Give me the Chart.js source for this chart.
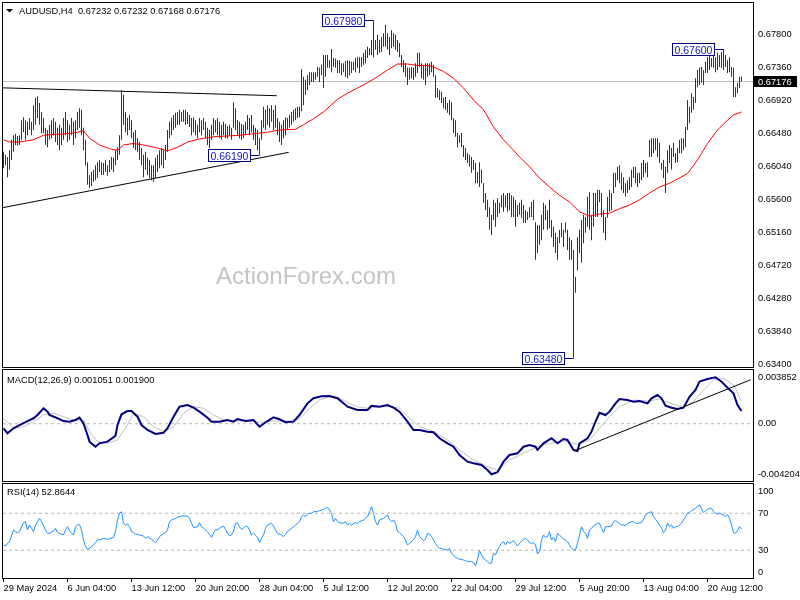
<!DOCTYPE html>
<html><head><meta charset="utf-8">
<script src="https://cdn.jsdelivr.net/npm/chart.js@4.4.1/dist/chart.umd.min.js"></script>
<style>
html,body{margin:0;padding:0;background:#fff;width:800px;height:600px;overflow:hidden;}
canvas{position:absolute;left:0;}
</style></head><body>
<canvas id="cMain" width="800" height="368" style="top:0px"></canvas>
<canvas id="cMacd" width="800" height="115" style="top:368px"></canvas>
<canvas id="cRsi" width="800" height="117" style="top:483px"></canvas>
<script>
// ---------------- DATA ----------------
const symbolTitle = 'AUDUSD,H4';
const lastBarOHLC = ['0.67232','0.67232','0.67168','0.67176'];
const currentPrice = 0.67176;

// x axis: bar index -> time labels
const tickBars = [0,32,64,96,128,160,192,224,256,288,320,352];
const tickLabels = ['29 May 2024','6 Jun 04:00','13 Jun 12:00','20 Jun 20:00','28 Jun 04:00','5 Jul 12:00','12 Jul 20:00','22 Jul 04:00','29 Jul 12:00','5 Aug 20:00','13 Aug 04:00','20 Aug 12:00'];

const priceTicks = [0.634,0.6384,0.6428,0.6472,0.6516,0.656,0.6604,0.6648,0.6692,0.6736,0.678];
const macdTicks = [-0.004204, 0, 0.003852];
const macdTickLabels = ['-0.004204','0.00','0.003852'];
const rsiTicks = [0, 30, 70, 100];
const rsiLevels = [30, 70];
const macdLevels = [0];

// H4 bars: highs / lows
const highs = [
0.6623,0.6619,0.6616,0.6625,0.6639,0.6645,0.6647,0.6644,0.6645,0.6665,
0.6669,0.6665,0.6663,0.6668,0.6663,0.6685,0.6695,0.6697,0.6688,0.6676,
0.6668,0.6655,0.6652,0.6659,0.6665,0.6668,0.6663,0.6655,0.6659,0.6655,
0.6668,0.6676,0.6665,0.6659,0.6668,0.6663,0.6665,0.6676,0.6681,0.6679,
0.6655,0.6639,0.6609,0.6592,0.6596,0.6599,0.6605,0.6609,0.6612,0.6609,
0.6608,0.6612,0.6605,0.6612,0.6616,0.6615,0.6625,0.6629,0.6645,0.6705,
0.6699,0.6676,0.6668,0.6672,0.6665,0.6649,0.6652,0.6641,0.6636,0.6628,
0.6619,0.6623,0.6615,0.6612,0.6605,0.6605,0.6615,0.6619,0.6625,0.6628,
0.6625,0.6632,0.6652,0.6663,0.6668,0.6672,0.6675,0.6676,0.6679,0.6676,
0.6679,0.6679,0.6676,0.6672,0.6668,0.6669,0.6665,0.6659,0.6668,0.6665,
0.6668,0.6663,0.6655,0.6652,0.6659,0.6668,0.6665,0.6668,0.6663,0.6659,
0.6663,0.6660,0.6657,0.6659,0.6655,0.6689,0.6681,0.6665,0.6663,0.6660,
0.6659,0.6663,0.6672,0.6668,0.6672,0.6659,0.6655,0.6652,0.6641,0.6665,
0.6683,0.6679,0.6685,0.6681,0.6685,0.6679,0.6685,0.6668,0.6663,0.6659,
0.6665,0.6669,0.6668,0.6672,0.6676,0.6679,0.6681,0.6683,0.6683,0.6733,
0.6723,0.6719,0.6725,0.6729,0.6729,0.6729,0.6729,0.6736,0.6735,0.6739,
0.6752,0.6752,0.6752,0.6745,0.6760,0.6748,0.6747,0.6745,0.6745,0.6741,
0.6741,0.6744,0.6745,0.6744,0.6743,0.6743,0.6748,0.6749,0.6749,0.6749,
0.6755,0.6759,0.6763,0.6761,0.6772,0.6798,0.6772,0.6779,0.6772,0.6776,
0.6781,0.6792,0.6781,0.6776,0.6785,0.6781,0.6779,0.6772,0.6768,0.6752,
0.6745,0.6741,0.6735,0.6735,0.6736,0.6735,0.6741,0.6755,0.6755,0.6741,
0.6739,0.6741,0.6741,0.6741,0.6743,0.6739,0.6725,0.6708,0.6705,0.6703,
0.6695,0.6696,0.6688,0.6692,0.6689,0.6668,0.6665,0.6648,0.6645,0.6648,
0.6632,0.6628,0.6621,0.6619,0.6616,0.6612,0.6608,0.6596,0.6609,0.6599,
0.6581,0.6568,0.6559,0.6549,0.6539,0.6559,0.6555,0.6561,0.6555,0.6565,
0.6568,0.6565,0.6568,0.6568,0.6565,0.6563,0.6559,0.6552,0.6555,0.6559,
0.6552,0.6545,0.6543,0.6549,0.6556,0.6559,0.6529,0.6525,0.6525,0.6539,
0.6555,0.6552,0.6545,0.6559,0.6532,0.6523,0.6515,0.6509,0.6519,0.6528,
0.6519,0.6529,0.6519,0.6509,0.6505,0.6492,0.6456,0.6509,0.6519,0.6532,
0.6539,0.6536,0.6563,0.6569,0.6539,0.6568,0.6568,0.6572,0.6572,0.6568,
0.6545,0.6536,0.6563,0.6572,0.6568,0.6595,0.6595,0.6603,0.6605,0.6595,
0.6589,0.6581,0.6585,0.6589,0.6599,0.6603,0.6603,0.6595,0.6595,0.6608,
0.6612,0.6608,0.6609,0.6639,0.6641,0.6641,0.6641,0.6641,0.6635,0.6608,
0.6612,0.6603,0.6625,0.6632,0.6628,0.6635,0.6621,0.6628,0.6639,0.6641,
0.6641,0.6656,0.6692,0.6683,0.6701,0.6696,0.6721,0.6732,0.6735,0.6736,
0.6732,0.6743,0.6749,0.6752,0.6748,0.6752,0.6749,0.6755,0.6752,0.6756,
0.6760,0.6752,0.6745,0.6749,0.6736,0.6735,0.6709,0.6715,0.6723,0.67232];
const lows = [
0.6601,0.6605,0.6589,0.6599,0.6612,0.6623,0.6632,0.6631,0.6632,0.6639,
0.6649,0.6639,0.6645,0.6652,0.6645,0.6652,0.6659,0.6668,0.6659,0.6648,
0.6648,0.6632,0.6629,0.6639,0.6641,0.6645,0.6636,0.6632,0.6625,0.6632,
0.6639,0.6645,0.6636,0.6639,0.6645,0.6632,0.6641,0.6652,0.6655,0.6645,
0.6625,0.6605,0.6579,0.6575,0.6577,0.6583,0.6585,0.6588,0.6596,0.6592,
0.6592,0.6596,0.6591,0.6596,0.6599,0.6596,0.6605,0.6612,0.6619,0.6639,
0.6659,0.6649,0.6645,0.6652,0.6641,0.6628,0.6625,0.6623,0.6612,0.6605,
0.6589,0.6599,0.6592,0.6588,0.6585,0.6583,0.6588,0.6596,0.6601,0.6605,
0.6601,0.6612,0.6623,0.6641,0.6645,0.6652,0.6655,0.6659,0.6659,0.6663,
0.6663,0.6659,0.6660,0.6656,0.6645,0.6649,0.6645,0.6641,0.6649,0.6645,
0.6652,0.6641,0.6632,0.6628,0.6639,0.6645,0.6649,0.6645,0.6641,0.6639,
0.6645,0.6641,0.6641,0.6645,0.6639,0.6655,0.6652,0.6645,0.6641,0.6639,
0.6641,0.6645,0.6652,0.6645,0.6649,0.6639,0.6632,0.6625,0.6619,0.6639,
0.6655,0.6652,0.6659,0.6655,0.6663,0.6652,0.6655,0.6645,0.6636,0.6632,
0.6641,0.6645,0.6652,0.6655,0.6659,0.6663,0.6665,0.6668,0.6669,0.6677,
0.6685,0.6699,0.6705,0.6712,0.6716,0.6716,0.6719,0.6723,0.6716,0.6725,
0.6708,0.6723,0.6735,0.6735,0.6729,0.6736,0.6735,0.6728,0.6728,0.6725,
0.6729,0.6723,0.6721,0.6725,0.6728,0.6732,0.6729,0.6735,0.6728,0.6736,
0.6739,0.6741,0.6748,0.6752,0.6752,0.6749,0.6759,0.6752,0.6755,0.6756,
0.6763,0.6763,0.6759,0.6752,0.6761,0.6763,0.6759,0.6756,0.6749,0.6736,
0.6729,0.6723,0.6712,0.6719,0.6721,0.6719,0.6723,0.6728,0.6736,0.6721,
0.6719,0.6712,0.6723,0.6725,0.6729,0.6723,0.6695,0.6695,0.6692,0.6688,
0.6681,0.6679,0.6675,0.6672,0.6665,0.6648,0.6643,0.6629,0.6635,0.6629,
0.6616,0.6612,0.6608,0.6603,0.6595,0.6599,0.6581,0.6581,0.6576,0.6581,
0.6555,0.6545,0.6536,0.6519,0.6512,0.6532,0.6523,0.6536,0.6541,0.6549,
0.6543,0.6549,0.6543,0.6545,0.6536,0.6536,0.6523,0.6536,0.6539,0.6535,
0.6528,0.6528,0.6532,0.6535,0.6536,0.6532,0.6479,0.6488,0.6499,0.6505,
0.6519,0.6532,0.6519,0.6521,0.6509,0.6496,0.6488,0.6479,0.6501,0.6509,
0.6496,0.6515,0.6492,0.6479,0.6479,0.6348,0.6435,0.6465,0.6488,0.6475,
0.6501,0.6515,0.6523,0.6519,0.6505,0.6523,0.6536,0.6536,0.6556,0.6536,
0.6515,0.6505,0.6535,0.6543,0.6545,0.6568,0.6576,0.6585,0.6581,0.6572,
0.6568,0.6563,0.6568,0.6572,0.6576,0.6588,0.6581,0.6576,0.6581,0.6585,
0.6589,0.6595,0.6589,0.6616,0.6616,0.6621,0.6625,0.6616,0.6608,0.6599,
0.6588,0.6568,0.6595,0.6608,0.6599,0.6616,0.6608,0.6609,0.6621,0.6621,
0.6625,0.6629,0.6652,0.6661,0.6675,0.6679,0.6688,0.6709,0.6712,0.6715,
0.6712,0.6728,0.6728,0.6732,0.6736,0.6735,0.6729,0.6732,0.6736,0.6735,
0.6732,0.6736,0.6728,0.6729,0.6723,0.6696,0.6696,0.6701,0.6708,0.67168];

// moving average (red), read at these bars
const maBars = [0,3,8,15,20,25,32,37,40,43,48,53,57,60,65,70,77,82,87,92,98,105,112,118,125,132,138,146,150,155,160,167,172,177,182,187,192,197,202,207,212,215,220,225,230,235,240,245,250,255,258,263,268,273,278,283,288,293,298,303,308,313,318,323,328,333,338,342,347,352,357,362,365,369];
const maValues = [0.6639,0.6636,0.6636,0.6639,0.6645,0.6646,0.6647,0.6649,0.6651,0.6641,0.6632,0.6627,0.6625,0.6632,0.6634,0.6632,0.6628,0.6624,0.6629,0.6636,0.6640,0.6643,0.6644,0.6645,0.6647,0.6649,0.6652,0.6653,0.6659,0.6667,0.6676,0.6693,0.6701,0.6708,0.6715,0.6723,0.6732,0.6740,0.6740,0.6738,0.6738,0.6736,0.6730,0.6721,0.6708,0.6692,0.6679,0.6656,0.6639,0.6625,0.6616,0.6603,0.6588,0.6576,0.6565,0.6556,0.6543,0.6537,0.6540,0.6541,0.6547,0.6552,0.6559,0.6568,0.6576,0.6581,0.6588,0.6594,0.6612,0.6634,0.6652,0.6665,0.6672,0.6676];

// MACD(12,26,9)
const macdBars = [0,2,5,8,12,15,17,20,22,23,27,30,33,36,38,40,42,43,46,48,52,56,57,59,62,64,67,69,72,76,80,82,85,88,92,95,98,102,104,108,112,115,117,121,125,128,132,135,138,141,145,148,152,155,159,163,167,172,177,182,184,188,192,195,198,202,205,208,212,215,218,222,225,228,232,235,239,242,244,247,250,253,257,260,263,266,267,270,274,277,280,282,285,287,288,292,294,296,298,301,303,306,308,312,315,318,322,324,327,329,331,334,337,340,343,346,348,352,356,359,362,365,367,369];
const macdValues = [-0.00038,-0.0008,-0.00038,-0.00011,0.00022,0.00045,0.00072,0.00128,0.001,0.00072,0.00045,0.00022,0.00017,0.00031,0.0005,0.00003,-0.00094,-0.00149,-0.00191,-0.00163,-0.00149,-0.001,-0.00011,0.00078,0.00105,0.00105,0.00058,-0.00011,-0.00052,-0.00085,-0.00075,-0.00038,0.00058,0.00141,0.00155,0.00133,0.001,0.0005,0.00017,0.00017,0.00031,0.00017,0.00039,0.00022,0.00031,-0.00025,0.00022,0.00053,0.00037,0.00012,0.00017,0.00072,0.00169,0.00211,0.00227,0.0023,0.00211,0.00141,0.00114,0.00114,0.00149,0.00141,0.00155,0.00133,0.001,0.00017,-0.00052,-0.00052,-0.00066,-0.00071,-0.00121,-0.00163,-0.00191,-0.0026,-0.00315,-0.00329,-0.00343,-0.00384,-0.0042,-0.00403,-0.00315,-0.0026,-0.00246,-0.00191,-0.00177,-0.00191,-0.00218,-0.00163,-0.00121,-0.00163,-0.00127,-0.00135,-0.00218,-0.00227,-0.00163,-0.00121,-0.00066,0.00017,0.00091,0.00072,0.001,0.00169,0.00205,0.00197,0.00183,0.00188,0.00169,0.00211,0.00238,0.00211,0.00149,0.00133,0.00122,0.00133,0.00224,0.0028,0.00349,0.00371,0.00385,0.00349,0.00299,0.00252,0.00155,0.00105];
const signalBars = [0,5,10,15,20,25,30,35,40,43,47,52,57,62,65,70,75,80,85,90,95,100,105,110,115,122,128,135,142,148,153,158,163,168,173,178,183,188,193,198,203,208,215,222,228,235,242,247,253,260,267,273,280,287,293,298,303,308,315,322,328,335,340,345,350,355,360,365,369];
const signalValues = [0.00045,-0.00038,-0.00025,0.00017,0.00072,0.00086,0.00058,0.00031,0.00031,-0.00066,-0.00149,-0.00163,-0.00135,-0.00011,0.00086,0.00058,-0.00025,-0.00066,-0.00025,0.00086,0.00141,0.00128,0.00072,0.00031,0.00022,0.00022,0.00012,0.00022,0.00022,0.00039,0.00128,0.00197,0.00224,0.00211,0.00169,0.00133,0.00128,0.00141,0.00141,0.0013,0.00045,-0.00025,-0.00066,-0.00135,-0.00218,-0.00301,-0.00357,-0.00384,-0.00301,-0.00246,-0.00191,-0.00163,-0.00144,-0.00171,-0.00135,-0.00038,0.00058,0.00141,0.00197,0.00188,0.00205,0.00161,0.00133,0.00183,0.0028,0.00363,0.00377,0.00321,0.0019];

// RSI(14)
const rsiBars = [0,1,2,3,5,6,7,8,10,11,12,13,14,15,16,17,18,19,21,22,23,25,26,27,28,30,31,32,33,34,35,36,37,38,39,40,41,42,43,45,46,47,48,50,52,53,55,56,57,58,59,60,61,62,63,64,65,66,68,70,71,72,74,76,77,78,79,81,82,83,84,85,87,89,92,93,94,95,97,98,99,100,101,102,103,104,105,106,107,108,110,111,112,113,114,115,116,117,118,119,120,121,122,123,124,125,127,128,129,130,131,132,134,135,136,137,139,140,141,142,143,145,146,147,148,149,150,151,152,153,154,155,157,158,160,161,162,163,164,165,166,167,168,170,171,172,173,174,176,177,178,180,181,182,183,184,185,186,187,188,190,191,192,193,194,195,196,197,198,200,201,202,203,205,206,207,208,210,211,212,213,214,216,217,218,219,220,222,223,224,225,226,227,228,230,231,232,234,235,236,237,238,239,240,242,243,244,245,246,247,248,249,250,251,252,253,255,256,257,258,260,261,262,263,264,265,266,267,268,269,270,271,272,273,274,275,276,277,278,280,281,282,283,284,285,286,287,288,289,290,291,292,293,294,295,297,298,299,300,301,302,304,305,306,307,309,310,311,312,314,315,316,317,319,320,321,322,324,325,326,327,328,329,330,331,332,333,334,335,336,337,338,339,340,341,342,343,344,346,347,348,349,350,351,352,353,354,355,356,357,358,360,361,362,363,364,365,366,367,368,369];
const rsiValues = [35.7,34.6,37.5,39.3,51.9,50.1,49.0,50.1,59.8,60.9,51.9,57.3,53.7,50.1,57.3,60.9,64.5,60.9,51.9,48.3,48.3,50.8,53.7,49.0,48.3,46.5,51.9,55.5,51.2,48.3,46.5,55.5,57.3,57.9,51.9,41.1,33.9,31.0,32.1,35.7,38.2,41.8,41.1,42.9,41.8,42.5,44.0,50.1,62.7,69.9,71.7,59.1,57.3,58.4,55.5,50.1,49.0,47.6,46.5,45.4,42.9,44.7,41.8,38.2,41.1,44.7,46.5,49.0,51.9,60.9,62.7,63.4,65.6,67.0,67.0,64.5,59.1,54.4,55.5,59.8,55.5,53.7,51.9,50.1,47.2,44.0,48.3,52.6,51.9,53.7,56.2,52.6,48.3,45.4,46.5,50.1,59.1,59.8,55.5,52.6,53.7,56.2,55.5,51.9,46.5,48.3,44.0,38.2,42.9,46.5,53.7,57.3,59.1,56.2,51.9,48.3,46.5,44.7,47.2,50.1,51.9,55.5,57.3,59.1,60.9,66.3,68.1,66.3,69.2,69.9,69.9,71.7,71.7,72.8,74.2,75.3,76.4,73.5,69.9,60.9,64.5,60.9,59.8,59.1,60.9,57.3,59.1,57.3,59.8,59.1,60.9,62.7,64.5,66.3,71.7,77.1,69.9,60.9,57.3,62.7,64.5,66.3,68.1,63.4,60.9,62.7,59.1,50.1,49.0,44.7,41.1,35.7,37.5,41.1,44.7,51.9,44.7,40.4,41.8,48.3,47.6,44.7,37.5,33.9,32.1,32.1,31.0,30.3,32.1,26.7,24.9,22.3,21.3,20.2,19.5,18.7,17.7,17.7,16.6,13.0,20.2,29.6,24.9,21.3,17.7,15.9,15.9,26.7,24.9,30.3,33.9,37.5,39.3,35.7,39.3,37.5,40.4,37.5,34.6,37.5,41.8,42.9,41.1,38.2,37.5,38.2,35.7,26.0,28.5,41.1,46.5,44.0,44.7,50.1,41.1,44.0,39.3,48.3,46.5,41.8,41.1,39.3,35.7,32.1,30.3,30.3,37.5,46.5,55.5,50.1,48.3,42.9,51.9,53.7,56.2,59.1,59.1,53.7,49.0,55.5,55.5,56.2,60.9,62.0,60.5,57.3,57.3,56.2,59.1,60.9,60.9,59.1,59.1,59.8,63.4,68.1,69.9,71.7,66.3,63.4,60.9,57.3,53.7,49.0,51.9,59.1,55.5,57.3,53.7,55.5,55.5,57.3,59.1,62.7,66.3,69.9,70.6,72.8,75.3,77.8,78.9,75.3,70.6,72.8,74.2,75.3,75.3,71.7,69.9,69.2,69.9,68.1,66.3,68.5,64.5,57.3,49.0,48.3,51.2,55.5,52.86];

// hand-drawn trendlines (bar index, value)
const trendUpperBars = [-0.25, 136.6], trendUpperPrices = [0.67082, 0.66977];
const trendLowerBars = [-0.25, 142.6], trendLowerPrices = [0.65485, 0.66222];
const macdTrendBars = [285.25, 373.6], macdTrendValues = [-0.00227, 0.00365];

// swing labels
const labelBars = [185, 128, 360, 285];
const labelPrices = [0.6798, 0.6619, 0.676, 0.6348];
const labelTexts = ['0.67980', '0.66190', '0.67600', '0.63480'];

// ---------------- STYLE / HELPERS ----------------
const FONT = '"Liberation Sans", Arial, sans-serif';
const FS = 9.3;
Chart.defaults.font.family = FONT;
Chart.defaults.font.size = FS;
Chart.defaults.color = '#000';
const X_MIN = -0.25, X_MAX = 374.75;
const BAR_COLOR = '#123d5c';

const pts = (xs, ys) => xs.map((x, k) => ({x, y: ys[k]}));

const framePlugin = { id: 'frame', afterDraw(chart) {
  const {ctx, chartArea: a} = chart;
  ctx.save(); ctx.strokeStyle = '#000'; ctx.lineWidth = 1;
  ctx.strokeRect(a.left - 0.5, a.top - 0.5, a.right - a.left + 1, a.bottom - a.top + 1);
  ctx.restore();
}};

function textPlugin(id, text, x, y) {
  return { id, afterDraw(chart) {
    const ctx = chart.ctx; ctx.save();
    ctx.font = FS + 'px ' + FONT; ctx.fillStyle = '#000'; ctx.textBaseline = 'alphabetic';
    ctx.fillText(text, x, y); ctx.restore();
  }};
}

function yAxis(min, max, ticksArr, cb) {
  return {
    position: 'right', min, max, bounds: 'data',
    afterBuildTicks: s => { s.ticks = ticksArr.map(v => ({value: v})); },
    afterFit: s => { s.width = 47; s.paddingTop = 0; s.paddingBottom = 0; },
    ticks: { callback: cb, padding: 5, autoSkip: false, color: '#000', font: {size: FS, family: FONT} },
    grid: { display: false, drawTicks: false },
    border: { display: false }
  };
}
const hiddenX = { type: 'linear', min: X_MIN, max: X_MAX, offset: false, display: false };
const baseOpts = { animation: false, responsive: false, devicePixelRatio: 1, events: [],
  plugins: { legend: {display: false}, tooltip: {enabled: false} } };

// ---------------- MAIN PRICE CHART ----------------
const mainDecor = { id: 'mainDecor',
  beforeDatasetsDraw(chart) {
    const {ctx, chartArea: a, scales: {y}} = chart;
    ctx.save();
    ctx.font = '24px ' + FONT; ctx.fillStyle = '#c4c4c4';
    ctx.fillText('ActionForex.com', 216, 284);
    const py = Math.round(y.getPixelForValue(currentPrice)) + 0.5;
    ctx.strokeStyle = '#c0c0c0'; ctx.lineWidth = 1;
    ctx.beginPath(); ctx.moveTo(a.left, py); ctx.lineTo(a.right, py); ctx.stroke();
    ctx.restore();
  },
  afterDatasetsDraw(chart) {
    const {ctx, scales: {x, y}} = chart;
    ctx.save();
    ctx.font = '10.5px ' + FONT; ctx.lineWidth = 1;
    labelBars.forEach((b, k) => {
      const bx = x.getPixelForValue(b);
      const by = Math.round(y.getPixelForValue(labelPrices[k])) + 0.5;
      const right = Math.round(bx - 10) + 0.5, left = right - 42;
      ctx.strokeStyle = '#000080';
      ctx.beginPath(); ctx.moveTo(right, by); ctx.lineTo(bx, by); ctx.stroke();
      ctx.fillStyle = '#fff'; ctx.fillRect(left, by - 6, 42, 12);
      ctx.strokeRect(left, by - 6, 42, 12);
      ctx.fillStyle = '#1515c8'; ctx.textBaseline = 'alphabetic';
      ctx.fillText(labelTexts[k], left + 2, by + 4);
    });
    ctx.restore();
  },
  afterDraw(chart) {
    const {ctx, scales: {y}} = chart;
    ctx.save();
    const py = Math.round(y.getPixelForValue(currentPrice));
    ctx.fillStyle = '#000'; ctx.fillRect(754, py - 5, 43, 11);
    ctx.fillStyle = '#fff'; ctx.font = FS + 'px ' + FONT; ctx.textBaseline = 'alphabetic';
    ctx.fillText(currentPrice.toFixed(5), 758, py + 3.5);
    ctx.fillStyle = '#000';
    ctx.beginPath(); ctx.moveTo(6, 9); ctx.lineTo(13, 9); ctx.lineTo(9.5, 12.5); ctx.closePath(); ctx.fill();
    ctx.fillText(symbolTitle + '  ' + lastBarOHLC.join(' '), 19, 14);
    ctx.restore();
  }
};

new Chart(document.getElementById('cMain'), {
  type: 'bar',
  data: { datasets: [
    { type: 'bar', data: highs.map((h, i) => ({x: i, y: [lows[i], h]})), backgroundColor: BAR_COLOR,
      barThickness: 1, borderWidth: 0, inflateAmount: 0, grouped: false, order: 5 },
    { type: 'line', data: pts(maBars, maValues), borderColor: '#ff0000', borderWidth: 1, pointRadius: 0, order: 3 },
    { type: 'line', data: pts(trendUpperBars, trendUpperPrices), borderColor: '#000', borderWidth: 1, pointRadius: 0, order: 1 },
    { type: 'line', data: pts(trendLowerBars, trendLowerPrices), borderColor: '#000', borderWidth: 1, pointRadius: 0, order: 1 }
  ]},
  options: { ...baseOpts,
    layout: { padding: {left: 3, top: 3, bottom: 1, right: 0} },
    scales: { x: hiddenX, y: yAxis(0.6336, 0.682133, priceTicks, v => Number(v).toFixed(5)) } },
  plugins: [mainDecor, framePlugin]
});

// ---------------- MACD ----------------
new Chart(document.getElementById('cMacd'), {
  type: 'line',
  data: { datasets: [
    { data: [{x: X_MIN, y: macdLevels[0]}, {x: X_MAX, y: macdLevels[0]}], borderColor: '#b8b8b8', borderWidth: 1, borderDash: [3, 3], pointRadius: 0, order: 6 },
    { data: pts(signalBars, signalValues), borderColor: '#c0c0c0', borderWidth: 1, pointRadius: 0, order: 5 },
    { data: pts(macdBars, macdValues), borderColor: '#000080', borderWidth: 2, pointRadius: 0, order: 3 },
    { data: pts(macdTrendBars, macdTrendValues), borderColor: '#000', borderWidth: 1, pointRadius: 0, order: 1 }
  ]},
  options: { ...baseOpts,
    layout: { padding: {left: 3, top: 2, bottom: 2, right: 0} },
    scales: { x: hiddenX, y: yAxis(-0.004756, 0.004457, macdTicks, (v, i) => macdTickLabels[i]) } },
  plugins: [framePlugin, textPlugin('macdTitle', 'MACD(12,26,9) 0.001051 0.001900', 7, 15)]
});

// ---------------- RSI ----------------
new Chart(document.getElementById('cRsi'), {
  type: 'line',
  data: { datasets: [
    ...rsiLevels.map(l => ({ data: [{x: X_MIN, y: l}, {x: X_MAX, y: l}], borderColor: '#b8b8b8', borderWidth: 1, borderDash: [3, 3], pointRadius: 0, order: 6 })),
    { data: pts(rsiBars, rsiValues), borderColor: '#1e90ff', borderWidth: 1, pointRadius: 0, order: 1 }
  ]},
  options: { ...baseOpts,
    layout: { padding: {left: 3, top: 1, bottom: 0, right: 0} },
    scales: {
      x: { type: 'linear', min: X_MIN, max: X_MAX, offset: false, position: 'bottom',
        afterBuildTicks: s => { s.ticks = tickBars.map(v => ({value: v})); },
        afterFit: s => { s.height = 22; s.paddingLeft = 0; s.paddingRight = 0; },
        ticks: { callback: (v, i) => tickLabels[i], align: 'start', maxRotation: 0, minRotation: 0, autoSkip: false, padding: 1, color: '#000', font: {size: FS, family: FONT} },
        grid: { display: true, drawOnChartArea: false, drawTicks: true, tickLength: 4, color: '#000', lineWidth: 1 },
        border: { display: false } },
      y: yAxis(0, 101.6, rsiTicks, v => v === 100 ? ['', '100'] : (v === 0 ? ['0', ''] : String(v)))
    } },
  plugins: [framePlugin, textPlugin('rsiTitle', 'RSI(14) 52.8644', 7, 12)]
});
</script>
</body></html>
